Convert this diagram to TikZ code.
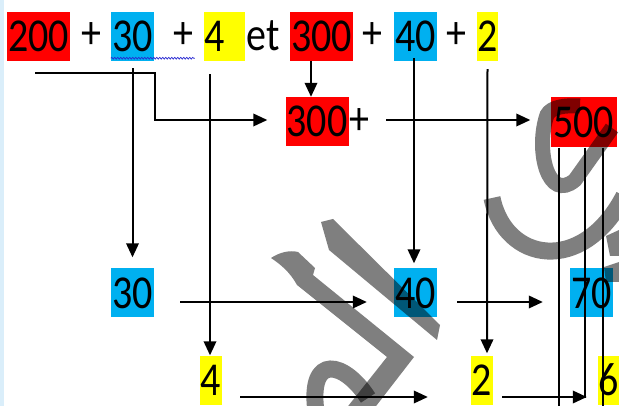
\documentclass[tikz,border=0pt]{standalone}
\usepackage{fontspec}
\usepackage{graphicx}
\setmainfont{Carlito}
\usetikzlibrary{arrows.meta,decorations.pathmorphing,calc}
\definecolor{hred}{RGB}{255,0,0}
\definecolor{hblue}{RGB}{0,176,240}
\definecolor{hyel}{RGB}{255,255,0}
\definecolor{strip}{RGB}{218,238,250}
\definecolor{wavy}{RGB}{40,40,210}
\newcommand{\vst}[1]{\scalebox{1}[1.18]{#1}}
\begin{document}
\begin{tikzpicture}[x=1pt,y=-1pt,
  box/.style={inner sep=0pt, minimum height=49pt, font=\fontsize{40}{40}\selectfont},
  txt/.style={inner sep=0pt, font=\fontsize{40}{40}\selectfont},
  ln/.style={line width=2pt},
  arr/.style={line width=2pt, -{Triangle[length=14pt,width=12.5pt]}}]
\useasboundingbox (0,0) rectangle (619,406);
\fill[white] (0,0) rectangle (619,406);
\fill[strip] (0,0) rectangle (3.5,406);
% row 1
\node[box,fill=hred,minimum width=63pt] (a200) at (38.5,36.5) {\vst{200}};
\node[txt] (p1) at (91,36) {\vst{+}};
\node[box,fill=hblue,minimum width=43pt] (a30) at (132.5,36.5) {\vst{30}};
\node[txt] (p2) at (183,36) {\vst{+}};
\node[box,fill=hyel,text width=41pt,align=left] (a4) at (224.5,36.5) {\vst{4}};
\node[txt] (et) at (263,36) {\vst{et}};
\node[box,fill=hred,minimum width=63pt] (a300) at (321.5,36.5) {\vst{300}};
\node[txt] (p3) at (372,36) {\vst{+}};
\node[box,fill=hblue,minimum width=43pt] (a40) at (415.5,36.5) {\vst{40}};
\node[txt] (p4) at (456,36) {\vst{+}};
\node[box,fill=hyel,minimum width=21pt] (a2) at (487.5,36.5) {\vst{2}};
\draw[wavy, line width=0.7pt, decorate, decoration={snake,amplitude=0.9pt,segment length=3pt}] ([yshift=3pt]a30.south west) -- ++(84,0);
% row 2
\node[box,fill=hred,minimum width=63pt] (b300) at (317,121.5) {\vst{300}};
\node[txt] (bp) at (359,121.5) {\vst{+}};
\node[box,fill=hred,minimum width=66pt,minimum height=50pt] (b500) at (583.5,122.5) {\vst{500}};
% row 3
\node[box,fill=hblue,minimum width=43pt] (c30) at (132.5,293) {\vst{30}};
\node[box,fill=hblue,minimum width=43pt] (c40) at (415.5,293) {\vst{40}};
\node[box,fill=hblue,minimum width=43pt] (c70) at (591.5,293) {\vst{70}};
% row 4
\node[box,fill=hyel,minimum width=22pt] (d4) at (211,380) {\vst{4}};
\node[box,fill=hyel,minimum width=22pt] (d2) at (482,380) {\vst{2}};
\node[box,fill=hyel,minimum width=22pt] (d6) at (609,380) {\vst{6}};
% connectors
\coordinate (s200) at (35,73);
\draw[arr] ([xshift=-10.5pt]a300.south) -- ([xshift=-6pt]b300.north);
\draw[arr] (s200) -- ++(120,0) |- ([xshift=-18pt,yshift=1.5pt]b300.west);
\draw[arr] ([yshift=-7pt]a30.south) -- ([yshift=11pt]c30.north);
\draw[arr] ([xshift=-14.5pt,yshift=-13pt]a4.south) -- ([xshift=-1pt]d4.north);
\draw[arr] ([xshift=-1.5pt,yshift=3pt]a40.south) -- ([xshift=-1.5pt,yshift=5pt]c40.north);
\draw[arr] ([yshift=-8pt]a2.south) -- ([xshift=5pt,yshift=2pt]d2.north);
\draw[arr] ([xshift=17pt,yshift=1.5pt]bp.east) -- ([xshift=-20pt,yshift=2.5pt]b500.west);
\draw[arr] ([xshift=26pt,yshift=-9pt]c30.east) -- ([xshift=-27pt,yshift=-9pt]c40.west);
\draw[arr] ([xshift=20pt,yshift=-9pt]c40.east) -- ([xshift=-27pt,yshift=-9pt]c70.west);
\draw[arr] ([xshift=18pt,yshift=-17pt]d4.east) -- ([xshift=-43pt,yshift=-17pt]d2.west);
\draw[arr] ([xshift=9pt,yshift=-17pt]d2.east) -- ([xshift=-11pt,yshift=-17pt]d6.west);
\draw[ln] ([xshift=8.5pt]b500.south west) -- ++(0,258);
\draw[ln] ([xshift=34.5pt]b500.south west) -- ++(0,250);
\draw[ln] ([xshift=52.5pt]b500.south west) -- ++(0,258);
% watermark
\begin{scope}[black, opacity=0.5]
\fill (321,222) -- (333,219) -- (440,325) -- (437,340) -- (329,250) -- cycle;
\fill (271,258) .. controls (280,252) and (290,250) .. (298,252) -- (315,268) -- (313,275)
   -- (414,357) -- (373,410) -- (345,410) -- (387,357) -- (297,285) .. controls (290,272) and (280,264) .. cycle;
\draw[line width=17pt] (316,412) .. controls (308,352) and (345,362) .. (368,398);
\draw[line width=15pt] (612,128) -- (575,180) .. controls (548,203) and (535,150) .. (547,115) .. controls (551,107) and (565,105) .. (580,106);
\draw[line width=17pt] (492,198) .. controls (505,262) and (582,276) .. (624,196);
\fill (606,236) -- (619,230) -- (619,256) -- (610,256) -- cycle;
\fill (604,267) -- (619,262) -- (619,282) -- (606,282) -- cycle;
\end{scope}
\end{tikzpicture}
\end{document}
